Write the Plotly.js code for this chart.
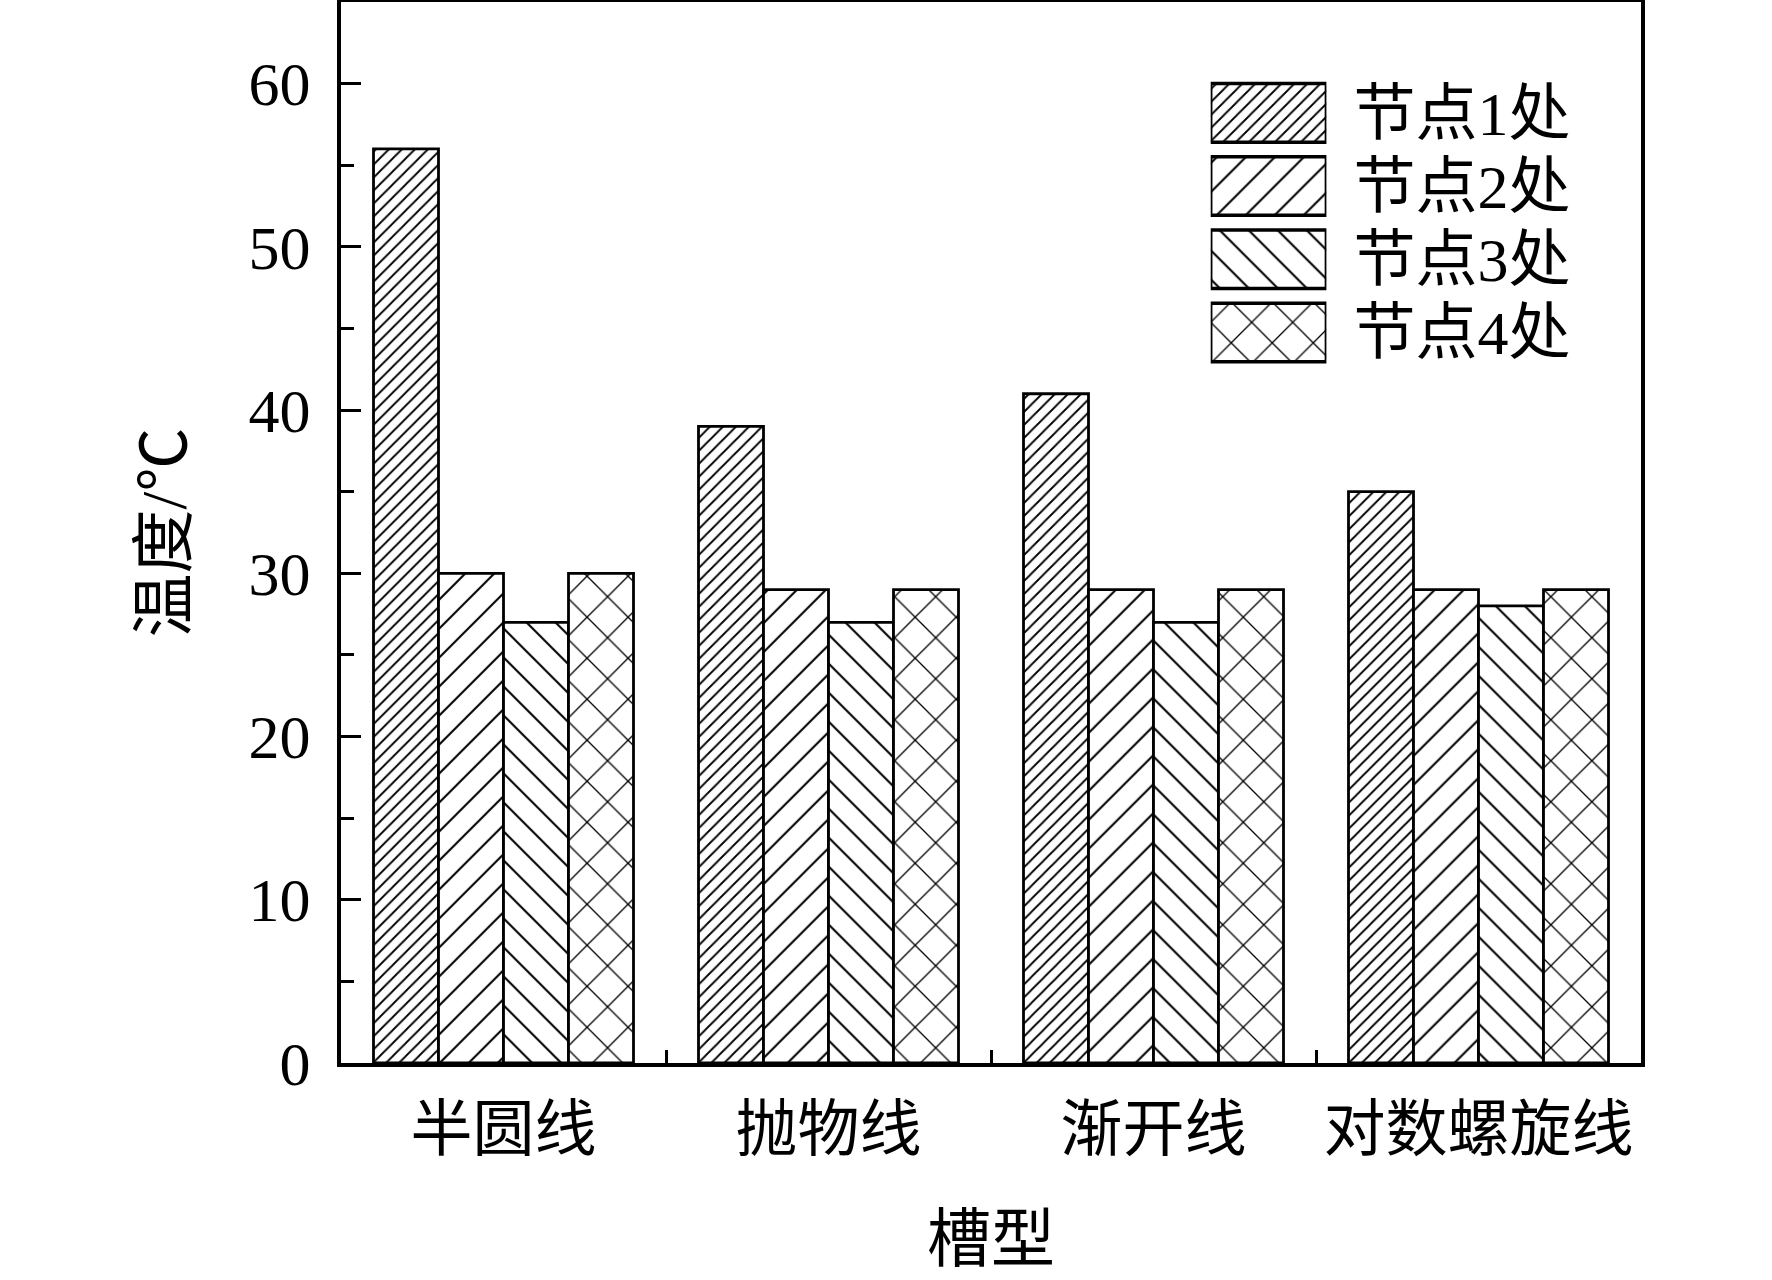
<!DOCTYPE html>
<html>
<head>
<meta charset="utf-8">
<script src="https://cdn.plot.ly/plotly-3.0.1.min.js"></script>
<style>
  html, body { margin: 0; padding: 0; background: #fff; }
  #chart { width: 1772px; height: 1280px; }
</style>
</head>
<body>
<div id="chart"></div>
<script>
// 槽型 / 节点温度
const grooves = ['半圆线', '抛物线', '渐开线', '对数螺旋线'];
const seriesNames = ['节点1处', '节点2处', '节点3处', '节点4处'];
const node1 = [56, 39, 41, 35];
const node2 = [30, 29, 29, 29];
const node3 = [27, 27, 27, 28];
const node4 = [30, 29, 29, 29];
const yTicks = [0, 10, 20, 30, 40, 50, 60];

const FONT = 'Liberation Serif, "Times New Roman", "Noto Sans CJK SC", serif';

// hachures : forme, taille, épaisseur
const PATTERNS = [
  { shape: '/',  size: 9.2,  solidity: 0.2 },
  { shape: '/',  size: 20.5, solidity: 0.1 },
  { shape: '\\', size: 20.5, solidity: 0.1 },
  { shape: 'x',  size: 29,   solidity: 0.09 },
];

const values = [node1, node2, node3, node4];

const traces = values.map((y, i) => ({
  type: 'bar',
  x: grooves, y,
  name: seriesNames[i],
  marker: {
    color: '#ffffff',
    line: { color: '#000', width: 2.8 },
    pattern: { ...PATTERNS[i], fgcolor: '#000', bgcolor: '#fff', fgopacity: 1, fillmode: 'overlay' },
  },
  showlegend: false,
  hoverinfo: 'x+y+name',
}));

// légende dessinée comme petit graphe annexe (cases hachurées + libellés)
traces.push({
  type: 'bar', orientation: 'h',
  x: seriesNames.map(() => 1), y: seriesNames,
  xaxis: 'x2', yaxis: 'y2',
  marker: {
    color: '#ffffff',
    line: { color: '#000', width: 3.5 },
    pattern: {
      shape: PATTERNS.map(p => p.shape),
      size: PATTERNS.map(p => p.size),
      solidity: PATTERNS.map(p => p.solidity),
      fgcolor: '#000', bgcolor: '#fff', fgopacity: 1, fillmode: 'overlay',
    },
  },
  showlegend: false,
  hoverinfo: 'skip',
});

const layout = {
  width: 1772, height: 1280,
  paper_bgcolor: '#fff', plot_bgcolor: '#fff',
  margin: { l: 341, r: 131, t: 2, b: 217 },
  font: { family: FONT, color: '#000', size: 60 },
  barmode: 'group', bargap: 0.2, bargroupgap: 0,
  showlegend: false,
  xaxis: {
    type: 'category',
    range: [-0.5, 3.5],
    tickmode: 'linear', dtick: 1, tickangle: 0,
    showline: true, linewidth: 4, linecolor: '#000', mirror: true,
    ticks: 'inside', tickson: 'boundaries', ticklen: 13, tickwidth: 3, tickcolor: '#000',
    showgrid: false, zeroline: false,
    tickfont: { family: FONT, size: 62 },
    ticklabelstandoff: 10,
    title: { text: '槽型', font: { family: FONT, size: 64 }, standoff: 54 },
  },
  yaxis: {
    range: [0, 65],
    tickvals: yTicks,
    showline: true, linewidth: 4, linecolor: '#000', mirror: true,
    ticks: 'inside', ticklen: 20, tickwidth: 3, tickcolor: '#000',
    minor: { dtick: 5, ticks: 'inside', ticklen: 13, tickwidth: 3, tickcolor: '#000', showgrid: false },
    showgrid: false, zeroline: false,
    tickfont: { family: FONT, size: 62 },
    ticklabelstandoff: 14,
    title: { text: '温度/℃', font: { family: FONT, size: 64 }, standoff: 42 },
  },
  xaxis2: {
    domain: [0.669, 0.758], anchor: 'y2', range: [0, 1],
    showline: false, showgrid: false, zeroline: false, showticklabels: false, ticks: '',
    fixedrange: true,
  },
  yaxis2: {
    domain: [0.654, 0.93], anchor: 'x2', side: 'right',
    type: 'category', range: [3.5, -0.5],
    tickmode: 'linear', dtick: 1,
    showline: false, showgrid: false, zeroline: false, ticks: '',
    tickfont: { family: FONT, size: 62 },
    ticklabelstandoff: 26,
    fixedrange: true,
  },
};

Plotly.newPlot('chart', traces, layout, { displayModeBar: false, staticPlot: true });
</script>
</body>
</html>
